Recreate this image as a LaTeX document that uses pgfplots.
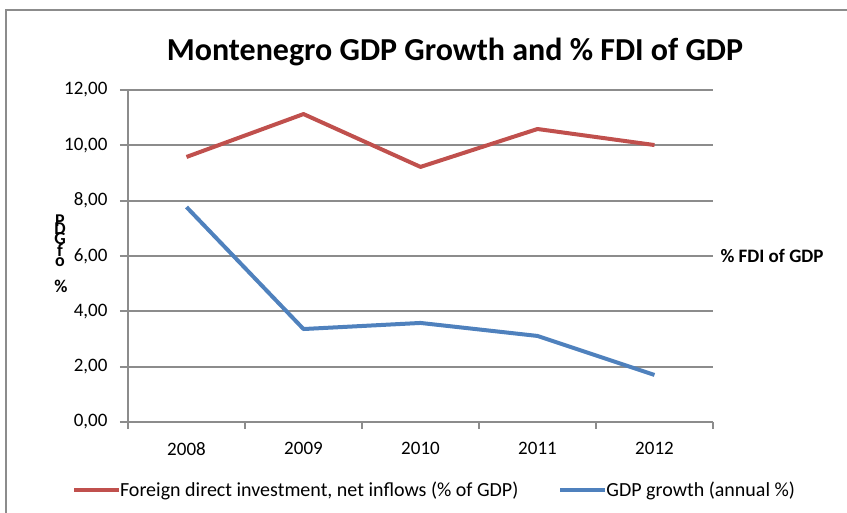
\documentclass[border=0pt]{standalone}
\usepackage{fontspec}
\setmainfont{Carlito}
\usepackage{pgfplots}
\pgfplotsset{compat=1.18}
\definecolor{fdired}{HTML}{C0504D}
\definecolor{gdpblue}{HTML}{4F81BD}
\definecolor{axisgray}{HTML}{8C8C8C}
\begin{document}
\begin{tikzpicture}
% axis box sits at the origin; page runs from (-128pt,-91pt) to (719pt,422pt)
\useasboundingbox (-128pt,-91pt) rectangle (719pt,422pt);
\draw[axisgray, line width=1.5pt] (-122pt,-91pt) -- (-122pt,412pt) -- (719pt,412pt);
\node[font=\bfseries\fontsize{32}{36}\selectfont] at (327pt,370pt) {Montenegro GDP Growth and \% FDI of GDP};
\begin{axis}[
  at={(0pt,0pt)}, anchor=south west,
  scale only axis, width=585pt, height=332pt,
  xmin=0, xmax=5, ymin=0, ymax=12,
  axis x line*=bottom, axis y line*=left,
  axis line style={axisgray, line width=1.8pt, -},
  xtick={0.5,1.5,2.5,3.5,4.5},
  xticklabels={2008,2009,2010,2011,2012},
  major x tick style={draw=none},
  minor xtick={0,1,2,3,4,5},
  minor x tick style={axisgray, line width=1.8pt},
  ytick={0,2,4,6,8,10,12},
  major y tick style={axisgray, line width=1.8pt},
  tick align=outside,
  major tick length=8pt, minor tick length=7pt,
  ymajorgrids, major grid style={axisgray, line width=1.8pt},
  tick label style={font=\fontsize{19}{22}\selectfont},
  xticklabel style={yshift=-9pt},
  yticklabel style={xshift=-9pt, /pgf/number format/.cd, fixed, fixed zerofill, precision=2, use comma, assume math mode=true},
  legend style={at={(axis description cs:0.524,-0.205)}, anchor=center, draw=none, fill=none,
    legend columns=2, font=\fontsize{20}{22}\selectfont,
    /tikz/every even column/.append style={column sep=38pt},
    /tikz/every odd column/.append style={column sep=-3pt},
    inner sep=0pt},
  legend image code/.code={\draw[#1, line width=4pt] (0pt,0pt) -- (45pt,0pt);},
]
\addplot[fdired, line width=4pt, line join=round] coordinates {
  (0.5,9.58) (1.5,11.13) (2.5,9.22) (3.5,10.59) (4.5,10.01)
};
\addlegendentry{Foreign direct investment, net inflows (\% of GDP)}
\addplot[gdpblue, line width=4pt, line join=round] coordinates {
  (0.5,7.77) (1.5,3.36) (2.5,3.58) (3.5,3.11) (4.5,1.70)
};
\addlegendentry{GDP growth (annual \%)}
\end{axis}
\node[font=\bfseries\fontsize{19}{22}\selectfont, anchor=west] at (589pt,166pt) {\% FDI of GDP};
% stacked, overlapping letters of the rotated axis title
\node[font=\bfseries\fontsize{18}{20}\selectfont, inner sep=0pt] at (-68pt,201pt) {P};
\node[font=\bfseries\fontsize{18}{20}\selectfont, inner sep=0pt] at (-68pt,193pt) {D};
\node[font=\bfseries\fontsize{18}{20}\selectfont, inner sep=0pt] at (-68pt,183pt) {G};
\node[font=\bfseries\fontsize{18}{20}\selectfont, inner sep=0pt] at (-68pt,172pt) {f};
\node[font=\bfseries\fontsize{18}{20}\selectfont, inner sep=0pt] at (-68pt,160pt) {o};
\node[font=\bfseries\fontsize{18}{20}\selectfont, inner sep=0pt] at (-67pt,136pt) {\%};
\end{tikzpicture}
\end{document}
